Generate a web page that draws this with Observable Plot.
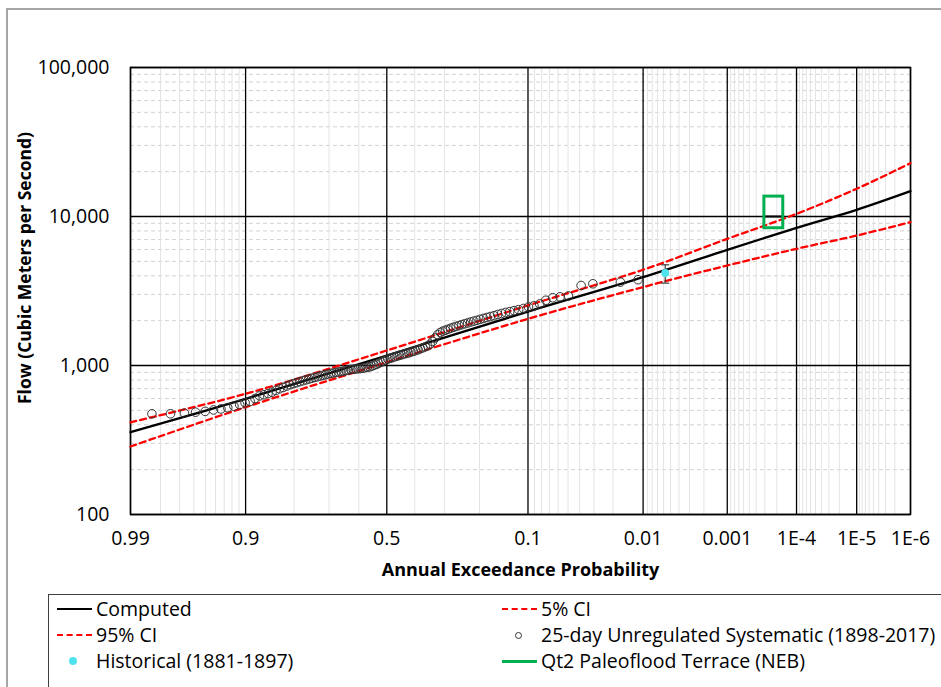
<!DOCTYPE html>
<html><head><meta charset="utf-8">
<script src="https://cdn.jsdelivr.net/npm/d3@7"></script>
<script src="https://cdn.jsdelivr.net/npm/@observablehq/plot@0.6"></script>
<style>
body{margin:0;background:#fff;font-family:"Open Sans",sans-serif;overflow:hidden;}
#wrap{position:relative;width:941px;height:687px;overflow:hidden;background:#fff;}
#border{position:absolute;left:6px;top:8px;width:1000px;height:800px;border:2px solid #a6a6a6;box-sizing:border-box;}
#chart{position:absolute;left:0;top:0;}
#legend{position:absolute;left:48px;top:594px;width:1000px;height:200px;border:1px solid #404040;background:#fff;}
.txt{position:absolute;font-size:19.5px;line-height:26px;height:26px;color:#000;white-space:nowrap;}
.ln{position:absolute;height:0;}
.dot{position:absolute;border-radius:50%;box-sizing:border-box;}
</style></head>
<body>
<div id="wrap">
  <div id="border"></div>
  <div id="chart"></div>
  <div id="legend"></div>
</div>
<script>
// ---------- data ----------
const majorProb = [0.99, 0.9, 0.5, 0.1, 0.01, 0.001, 1e-4, 1e-5, 1e-6];
const majorLabels = ["0.99", "0.9", "0.5", "0.1", "0.01", "0.001", "1E-4", "1E-5", "1E-6"];
const minorProb = [0.98, 0.97, 0.96, 0.95, 0.94, 0.93, 0.92, 0.91,
  0.8, 0.7, 0.6, 0.4, 0.3, 0.2,
  0.09, 0.08, 0.07, 0.06, 0.05, 0.04, 0.03, 0.02,
  0.009, 0.008, 0.007, 0.006, 0.005, 0.004, 0.003, 0.002,
  9e-4, 8e-4, 7e-4, 6e-4, 5e-4, 4e-4, 3e-4, 2e-4,
  9e-5, 8e-5, 7e-5, 6e-5, 5e-5, 4e-5, 3e-5, 2e-5,
  9e-6, 8e-6, 7e-6, 6e-6, 5e-6, 4e-6, 3e-6, 2e-6];
const majorFlow = [100, 1000, 10000, 100000];
const minorFlow = [200, 300, 400, 500, 600, 700, 800, 900,
  2000, 3000, 4000, 5000, 6000, 7000, 8000, 9000,
  20000, 30000, 40000, 50000, 60000, 70000, 80000, 90000];

// frequency curves (exceedance probability -> flow, m3/s)
const curveProb = [0.99, 0.9, 0.5, 0.1, 0.01, 0.001, 1e-4, 1e-5, 1e-6];
const computedFlow = [357, 597, 1167, 2300, 3917, 5970, 8400, 11090, 14790];
const ci5Flow = [416, 646, 1262, 2530, 4390, 7080, 10420, 15350, 22800];
const ci95Flow = [286, 525, 1052, 2056, 3360, 4690, 6070, 7450, 9160];

// 25-day unregulated systematic record (1898-2017)
const sysProb = [0.0113, 0.017, 0.0307, 0.0389,
  0.0496, 0.0579, 0.0661, 0.0744, 0.0826, 0.0909, 0.0992, 0.1074, 0.1157, 0.124,
  0.1322, 0.1405, 0.1488, 0.157, 0.1653, 0.1736, 0.1818, 0.1901, 0.1983, 0.2066,
  0.2149, 0.2231, 0.2314, 0.2397, 0.2479, 0.2562, 0.2645, 0.2727, 0.281, 0.2893,
  0.2975, 0.3058, 0.314, 0.3223, 0.3306, 0.3388, 0.3471, 0.3554, 0.3636, 0.3719,
  0.3802, 0.3884, 0.3967, 0.405, 0.4132, 0.4215, 0.4298, 0.438, 0.4463, 0.4545,
  0.4628, 0.4711, 0.4793, 0.4876, 0.4959, 0.5041, 0.5124, 0.5207, 0.5289, 0.5372,
  0.5455, 0.5537, 0.562, 0.5702, 0.5785, 0.5868, 0.595, 0.6033, 0.6116, 0.6198,
  0.6281, 0.6364, 0.6446, 0.6529, 0.6612, 0.6694, 0.6777, 0.686, 0.6942, 0.7025,
  0.7107, 0.719, 0.7273, 0.7355, 0.7438, 0.7521, 0.7603, 0.7686, 0.7769, 0.7851,
  0.7934, 0.8017, 0.8099, 0.8182, 0.8264, 0.8347, 0.843, 0.8512, 0.8595, 0.8678,
  0.876, 0.8843, 0.8926, 0.9008, 0.9091, 0.9174, 0.9256, 0.9339, 0.9421, 0.9504,
  0.9587, 0.9669, 0.9752, 0.9835];
const sysFlow = [3765, 3627, 3535, 3443,
  2930, 2890, 2850, 2740, 2590, 2515, 2470, 2415, 2370, 2335,
  2300, 2270, 2235, 2200, 2160, 2130, 2100, 2070, 2040, 2010,
  1985, 1960, 1930, 1905, 1880, 1855, 1830, 1805, 1780, 1750,
  1725, 1700, 1665, 1610, 1530, 1450, 1390, 1355, 1335, 1315,
  1295, 1275, 1260, 1245, 1230, 1215, 1205, 1195, 1180, 1170,
  1155, 1145, 1130, 1118, 1105, 1090, 1070, 1050, 1035, 1018,
  1005, 990, 980, 972, 965, 958, 954, 951, 947, 943,
  940, 932, 925, 917, 910, 905, 898, 891, 884, 876,
  867, 858, 850, 840, 831, 821, 811, 801, 790, 779,
  767, 755, 743, 728, 712, 697, 680, 662, 648, 636,
  625, 600, 575, 562, 546, 533, 521, 511, 503, 492,
  486, 479, 474, 474];

// historical (1881-1897)
const histProb = [0.00575];
const histFlow = [4170];
const histLow = [3570];
const histHigh = [4740];

// Qt2 paleoflood terrace (NEB)
const paleoProbHigh = [3.05e-4];
const paleoProbLow = [1.6e-4];
const paleoFlowLow = [8340];
const paleoFlowHigh = [13600];
const paleoFlowBest = [10000];

// ---------- normal probability transform ----------
function probit(p) {
  const a=[-3.969683028665376e+01,2.209460984245205e+02,-2.759285104469687e+02,1.383577518672690e+02,-3.066479806614716e+01,2.506628277459239e+00];
  const b=[-5.447609879822406e+01,1.615858368580409e+02,-1.556989798598866e+02,6.680131188771972e+01,-1.328068155288572e+01];
  const c=[-7.784894002430293e-03,-3.223964580411365e-01,-2.400758277161838e+00,-2.549732539343734e+00,4.374664141464968e+00,2.938163982698783e+00];
  const d=[7.784695709041462e-03,3.224671290700398e-01,2.445134137142996e+00,3.754408661907416e+00];
  const pl = 0.02425, ph = 1 - pl;
  let q, r;
  if (p < pl) { q = Math.sqrt(-2*Math.log(p)); return (((((c[0]*q+c[1])*q+c[2])*q+c[3])*q+c[4])*q+c[5])/((((d[0]*q+d[1])*q+d[2])*q+d[3])*q+1); }
  if (p <= ph) { q = p - 0.5; r = q*q; return (((((a[0]*r+a[1])*r+a[2])*r+a[3])*r+a[4])*r+a[5])*q/(((((b[0]*r+b[1])*r+b[2])*r+b[3])*r+b[4])*r+1); }
  q = Math.sqrt(-2*Math.log(1-p)); return -(((((c[0]*q+c[1])*q+c[2])*q+c[3])*q+c[4])*q+c[5])/((((d[0]*q+d[1])*q+d[2])*q+d[3])*q+1);
}
const zx = p => -probit(p); // exceedance probability -> standard normal deviate

const labelMap = new Map(majorProb.map((p, i) => [zx(p), majorLabels[i]]));
const histRows = histProb.map((p, i) => ({p, flow: histFlow[i], lo: histLow[i], hi: histHigh[i]}));
const paleoRows = paleoProbHigh.map((p, i) => ({p1: p, p2: paleoProbLow[i], lo: paleoFlowLow[i], hi: paleoFlowHigh[i], best: paleoFlowBest[i]}));
const capSymbol = {draw(ctx, size) { const r = Math.sqrt(size / Math.PI); ctx.moveTo(-r, 0); ctx.lineTo(r, 0); }};

const RED = "#ff0000", CYAN = "#4fe3ee", GREEN = "#00b050";

const chart = Plot.plot({
  width: 941, height: 590,
  marginLeft: 130, marginRight: 31, marginTop: 67, marginBottom: 76,
  style: {fontFamily: '"Open Sans", sans-serif', fontSize: "19px", color: "#000", background: "transparent", overflow: "visible"},
  x: {type: "linear", domain: [zx(0.99), zx(1e-6)]},
  y: {type: "log", domain: [100, 100000]},
  marks: [
    Plot.ruleY(minorFlow, {stroke: "#d2d2d2", strokeDasharray: "4,3", strokeWidth: 1}),
    Plot.ruleX(minorProb, {x: p => zx(p), stroke: "#e4e4e4", strokeWidth: 1}),
    Plot.ruleY(majorFlow, {stroke: "#000", strokeWidth: 1.3}),
    Plot.ruleX(majorProb, {x: p => zx(p), stroke: "#000", strokeWidth: 1.3}),
    Plot.frame({stroke: "#000", strokeWidth: 1.5}),
    Plot.axisY(majorFlow, {tickSize: 0, tickPadding: 21, tickFormat: d3.format(","), fontSize: 19.5, label: null}),
    Plot.axisX(majorProb.map(p => zx(p)), {tickSize: 0, tickPadding: 17, tickFormat: z => labelMap.get(z), fontSize: 19.5, label: null}),
    Plot.line(curveProb, {x: p => zx(p), y: (d, i) => ci95Flow[i], stroke: RED, strokeWidth: 2.3, strokeDasharray: "6,4", curve: "catmull-rom"}),
    Plot.line(curveProb, {x: p => zx(p), y: (d, i) => ci5Flow[i], stroke: RED, strokeWidth: 2.3, strokeDasharray: "6,4", curve: "catmull-rom"}),
    Plot.line(curveProb, {x: p => zx(p), y: (d, i) => computedFlow[i], stroke: "#000", strokeWidth: 2.3, curve: "catmull-rom"}),
    Plot.dot(sysProb, {x: p => zx(p), y: (d, i) => sysFlow[i], r: 4.3, stroke: "#333", strokeWidth: 1, fill: "none"}),
    Plot.ruleX(histRows, {x: d => zx(d.p), y1: "lo", y2: "hi", stroke: "#404040", strokeWidth: 1.2}),
    Plot.dot(histRows, {x: d => zx(d.p), y: "lo", symbol: capSymbol, r: 4, stroke: "#404040", strokeWidth: 1.2}),
    Plot.dot(histRows, {x: d => zx(d.p), y: "hi", symbol: capSymbol, r: 4, stroke: "#404040", strokeWidth: 1.2}),
    Plot.dot(histRows, {x: d => zx(d.p), y: "flow", r: 4, fill: CYAN}),
    Plot.ruleY(paleoRows, {y: "best", x1: d => zx(d.p1), x2: d => zx(d.p2), stroke: "#000", strokeWidth: 2}),
    Plot.rect(paleoRows, {x1: d => zx(d.p1), x2: d => zx(d.p2), y1: "lo", y2: "hi", fill: "none", stroke: GREEN, strokeWidth: 3}),
    Plot.text(["Flow (Cubic Meters per Second)"], {text: d => d, frameAnchor: "left", textAnchor: "middle", lineAnchor: "middle", rotate: -90, dx: -105, dy: -23, fontWeight: "bold", fontSize: 17.5}),
    Plot.text(["Annual Exceedance Probability"], {text: d => d, frameAnchor: "bottom", textAnchor: "middle", lineAnchor: "middle", dy: 56, fontWeight: "bold", fontSize: 18})
  ]
});
document.getElementById("chart").appendChild(chart);

// ---------- legend ----------
const legendItems = [
  {label: "Computed", col: 0, row: 0, kind: "line", color: "#000"},
  {label: "5% CI", col: 1, row: 0, kind: "dash", color: RED},
  {label: "95% CI", col: 0, row: 1, kind: "dash", color: RED},
  {label: "25-day Unregulated Systematic (1898-2017)", col: 1, row: 1, kind: "circle", color: "#333"},
  {label: "Historical (1881-1897)", col: 0, row: 2, kind: "dot", color: CYAN},
  {label: "Qt2 Paleoflood Terrace (NEB)", col: 1, row: 2, kind: "thick", color: GREEN}
];
const leg = document.getElementById("legend");
const colX = [8, 453];
const rowY = [14, 40, 66];
for (const it of legendItems) {
  const x0 = colX[it.col], cy = rowY[it.row];
  const t = document.createElement("div");
  t.className = "txt";
  t.textContent = it.label;
  t.style.left = (x0 + 39) + "px";
  t.style.top = (cy - 13) + "px";
  leg.appendChild(t);
  const s = document.createElement("div");
  if (it.kind === "line" || it.kind === "dash" || it.kind === "thick") {
    s.className = "ln";
    s.style.left = x0 + "px";
    s.style.width = "35px";
    const w = it.kind === "thick" ? 3 : 2;
    s.style.top = (cy - w / 2) + "px";
    s.style.borderTop = w + "px " + (it.kind === "dash" ? "dashed " : "solid ") + it.color;
  } else if (it.kind === "circle") {
    s.className = "dot";
    s.style.left = (x0 + 13) + "px"; s.style.top = (cy - 3.5) + "px";
    s.style.width = "7px"; s.style.height = "7px";
    s.style.border = "1px solid " + it.color;
  } else {
    s.className = "dot";
    s.style.left = (x0 + 12) + "px"; s.style.top = (cy - 4) + "px";
    s.style.width = "8px"; s.style.height = "8px";
    s.style.background = it.color;
  }
  leg.appendChild(s);
}
</script>
</body></html>
